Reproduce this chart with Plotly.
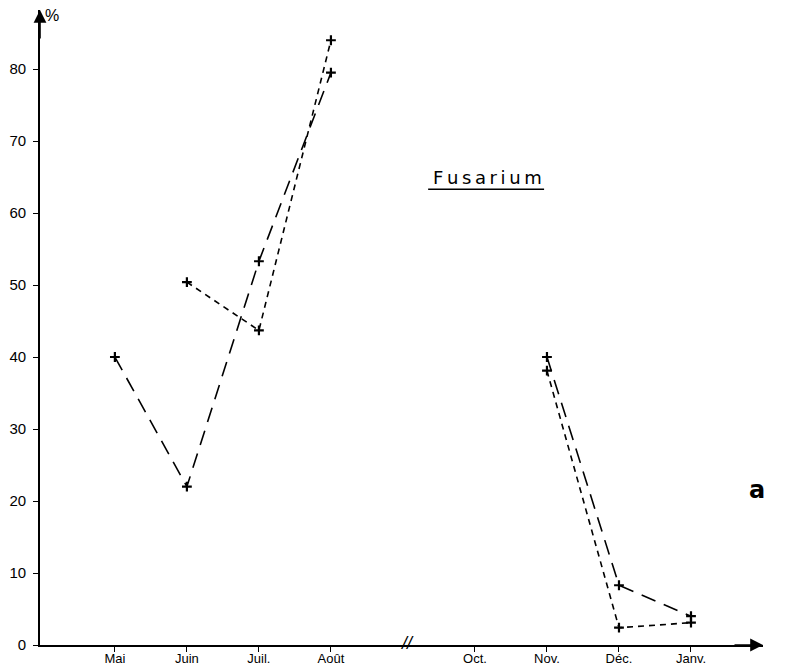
import plotly.graph_objects as go

# Month categories and their positions along the time axis (4 = axis break)
months = ["Mai", "Juin", "Juil.", "Août", "Oct.", "Nov.", "Déc.", "Janv."]
month_pos = [0, 1, 2, 3, 5, 6, 7, 8]

# Long-dash series (%)
series_long = [40.0, 22.0, 53.3, 79.5, None, 40.0, 8.3, 4.0]
# Short-dash series (%)
series_short = [None, 50.4, 43.7, 84.0, None, 38.1, 2.4, 3.1]

y_ticks = [0, 10, 20, 30, 40, 50, 60, 70, 80]

X_RANGE = [-1.04, 9.0]
Y_RANGE = [0, 88.2]

fig = go.Figure()

fig.add_trace(go.Scatter(
    x=month_pos, y=series_long, mode="lines+markers",
    line=dict(color="black", width=1.6, dash="15px,9px"),
    marker=dict(symbol="cross-thin", size=7, line=dict(color="black", width=2.2)),
    connectgaps=False, showlegend=False, cliponaxis=False,
))
fig.add_trace(go.Scatter(
    x=month_pos, y=series_short, mode="lines+markers",
    line=dict(color="black", width=1.6, dash="6px,5px"),
    marker=dict(symbol="cross-thin", size=7, line=dict(color="black", width=2.2)),
    connectgaps=False, showlegend=False, cliponaxis=False,
))

annotations = []
# y-axis arrow
annotations.append(dict(x=X_RANGE[0], y=Y_RANGE[1], xref="x", yref="y",
                        ax=0, ay=30, showarrow=True, arrowhead=2, arrowsize=1.6,
                        arrowwidth=1.6, arrowcolor="black", text=""))
# x-axis arrow
annotations.append(dict(x=X_RANGE[1], y=0, xref="x", yref="y",
                        ax=-30, ay=0, showarrow=True, arrowhead=2, arrowsize=1.6,
                        arrowwidth=1.6, arrowcolor="black", text=""))
# labels
annotations.append(dict(x=-0.88, y=87.4, xref="x", yref="y", text="%",
                        showarrow=False, font=dict(family="Liberation Sans", size=16, color="black")))
annotations.append(dict(x=9.2, y=0.8, xref="x", yref="y", text="<b>t.</b>",
                        showarrow=False, font=dict(family="Liberation Sans", size=24, color="black")))
annotations.append(dict(x=8.92, y=21.5, xref="x", yref="y", text="<b>a</b>",
                        showarrow=False, font=dict(family="DejaVu Sans", size=24, color="black")))
annotations.append(dict(x=5.18, y=64.9, xref="x", yref="y",
                        text="F\u2009u\u2009s\u2009a\u2009r\u2009i\u2009u\u2009m",
                        showarrow=False, font=dict(family="DejaVu Sans", size=18, color="black")))
annotations.append(dict(x=4.05, y=0.3, xref="x", yref="y", text="<i>//</i>",
                        showarrow=False, font=dict(family="Liberation Sans", size=18, color="black")))

shapes = [dict(type="line", xref="x", yref="y", x0=4.35, x1=5.96, y0=63.3, y1=63.3,
               line=dict(color="black", width=1.5))]

# The page body adds an 8px margin, so the figure is sized/offset to compensate
fig.update_layout(
    width=781, height=660,
    margin=dict(l=32, r=26, t=2, b=23),
    paper_bgcolor="white", plot_bgcolor="white",
    annotations=annotations, shapes=shapes,
    xaxis=dict(range=X_RANGE, tickmode="array", tickvals=month_pos, ticktext=months,
               automargin=False, ticklabelstandoff=-5,
               showgrid=False, zeroline=False, showline=True, linecolor="black",
               linewidth=1.8, ticks="outside", ticklen=5, tickwidth=1.2, tickcolor="black",
               tickfont=dict(family="Liberation Sans", size=13, color="black")),
    yaxis=dict(range=Y_RANGE, tickmode="array", tickvals=y_ticks,
               automargin=False, ticklabelstandoff=4,
               showgrid=False, zeroline=False, showline=True, linecolor="black",
               linewidth=1.8, ticks="outside", ticklen=5, tickwidth=1.2, tickcolor="black",
               tickfont=dict(family="Liberation Sans", size=15, color="black")),
)

fig.write_html("out.html")
